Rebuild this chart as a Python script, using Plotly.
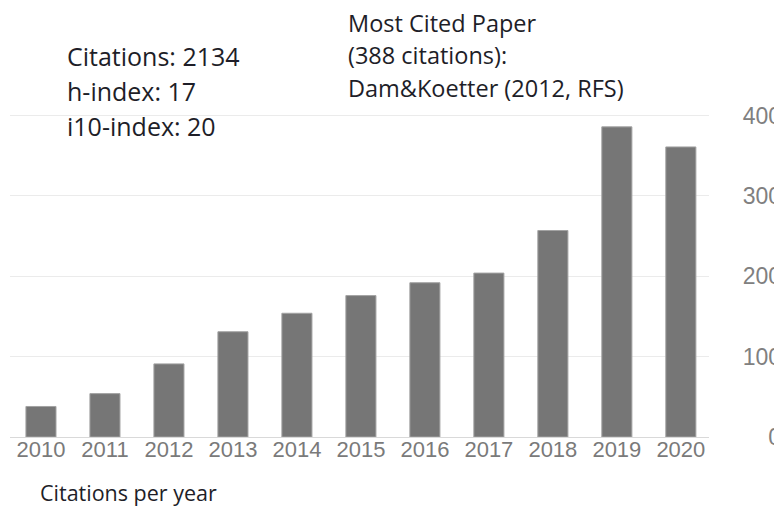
import plotly.graph_objects as go

years = ['2010', '2011', '2012', '2013', '2014', '2015', '2016', '2017', '2018', '2019', '2020']
citations = [38, 54, 91, 131, 154, 176, 192, 204, 257, 386, 361]
y_ticks = [0, 100, 200, 300, 400]

left_lines = ['Citations: 2134', 'h-index: 17', 'i10-index: 20']
right_lines = ['Most Cited Paper', '(388 citations):', 'Dam&Koetter (2012, RFS)']
footer = 'Citations per year'

# the page body adds an 8px margin; work in screen pixels and shift
OFF = 8
W, H = 782 - OFF, 508 - OFF
X0, X1 = 10 - OFF, 709 - OFF          # plot area (figure px)
Y_ZERO = 437 - OFF                    # y of value 0
Y_TOP = 114 - OFF                     # top of plot area
ML, MR, MT, MB = X0, 0, Y_TOP, H - Y_ZERO
PW, PH = W - ML - MR, H - MT - MB


def px(x):
    return (x - OFF - ML) / PW


def py(y):
    return (H - MB - (y - OFF)) / PH


fig = go.Figure()
fig.add_trace(go.Bar(
    x=years, y=citations, width=0.47,
    marker=dict(color='#767676', line=dict(color='#a3a3a3', width=1)),
))

fam = 'Open Sans, Noto Sans, sans-serif'
ann = []
for i, t in enumerate(left_lines):
    ann.append(dict(text=t, x=px(65), y=py([56.0, 91.0, 126.0][i]), xref='paper', yref='paper',
                    xanchor='left', yanchor='middle', showarrow=False,
                    font=dict(family=fam, size=25, color='#1e1e28')))
for i, t in enumerate(right_lines):
    ann.append(dict(text=t, x=px(346), y=py([22.5, 55.0, 88.0][i]), xref='paper', yref='paper',
                    xanchor='left', yanchor='middle', showarrow=False,
                    font=dict(family=fam, size=23.5, color='#1e1e28')))
ann.append(dict(text=footer, x=px(38), y=py(492.0), xref='paper', yref='paper',
                xanchor='left', yanchor='middle', showarrow=False,
                font=dict(family=fam, size=21.5, color='#1e1e28')))

fig.update_layout(
    width=W, height=H,
    margin=dict(l=ML, r=MR, t=MT, b=MB),
    paper_bgcolor='white', plot_bgcolor='white',
    showlegend=False,
    annotations=ann,
    xaxis=dict(
        type='category', domain=[0, (X1 - X0) / PW], range=[-0.484, 10.44],
        showgrid=False, showline=True, linecolor='#d9d9d9', linewidth=1,
        ticks='', ticklabelstandoff=-7,
        tickfont=dict(family='Liberation Sans Narrow, Arial Narrow, Liberation Sans, Arial', size=22, color='#7a7a7a'),
        fixedrange=True,
    ),
    yaxis=dict(
        range=[0, 402], tickvals=y_ticks, ticktext=[str(v) for v in y_ticks],
        anchor='free', position=1, side='left',
        showgrid=True, gridcolor='#ebebeb', gridwidth=1,
        zeroline=False, showline=False, ticks='', ticklabelstandoff=1,
        tickfont=dict(family='Liberation Sans, Arial', size=23, color='#808080'),
        fixedrange=True,
    ),
)

fig.write_html('out.html')
